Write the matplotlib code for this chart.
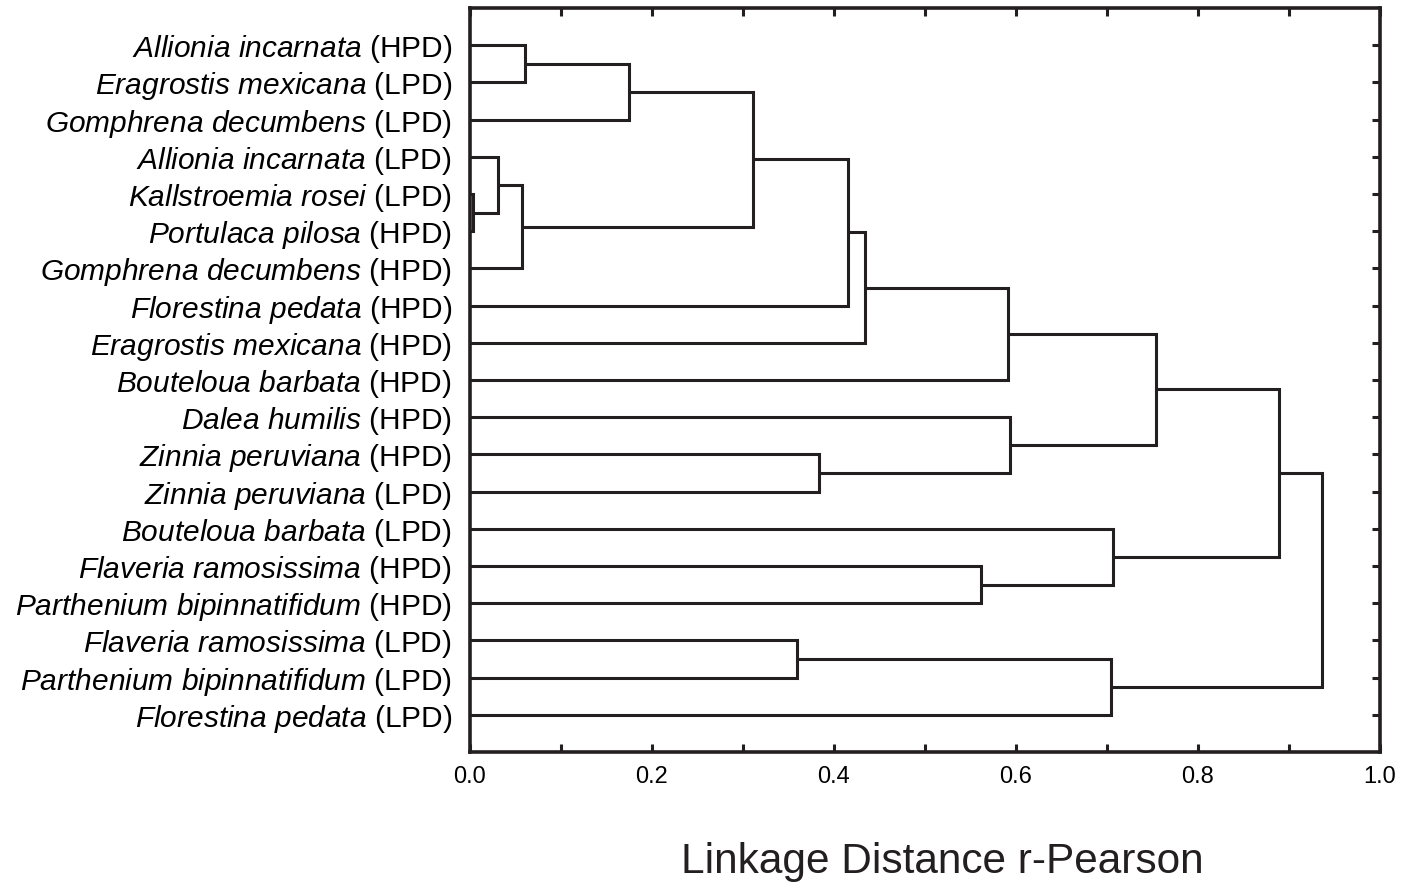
import numpy as np
import matplotlib
matplotlib.use("Agg")
import matplotlib.pyplot as plt
from matplotlib.ticker import MultipleLocator

plt.rcParams['font.family'] = ['Liberation Sans', 'DejaVu Sans']
plt.rcParams['mathtext.fontset'] = 'custom'
plt.rcParams['mathtext.rm'] = 'Liberation Sans'
plt.rcParams['mathtext.it'] = 'Liberation Sans:italic'

# Leaf order, top to bottom
species = [
    "Allionia incarnata", "Eragrostis mexicana", "Gomphrena decumbens",
    "Allionia incarnata", "Kallstroemia rosei", "Portulaca pilosa",
    "Gomphrena decumbens", "Florestina pedata", "Eragrostis mexicana",
    "Bouteloua barbata", "Dalea humilis", "Zinnia peruviana",
    "Zinnia peruviana", "Bouteloua barbata", "Flaveria ramosissima",
    "Parthenium bipinnatifidum", "Flaveria ramosissima",
    "Parthenium bipinnatifidum", "Florestina pedata",
]
density = [
    "HPD", "LPD", "LPD", "LPD", "LPD", "HPD", "HPD", "HPD", "HPD", "HPD",
    "HPD", "HPD", "LPD", "LPD", "HPD", "HPD", "LPD", "LPD", "LPD",
]

# Linkage steps (scipy style): ids >= n refer to clusters made earlier
merge_a = [4, 3, 20, 0, 22, 23, 24, 25, 16, 11, 14, 26, 10, 27, 13, 30, 34, 35]
merge_b = [5, 19, 6, 1, 2, 21, 7, 8, 17, 12, 15, 9, 28, 18, 29, 31, 33, 32]
heights = [0.003, 0.031, 0.057, 0.060, 0.175, 0.311, 0.415, 0.434, 0.359,
           0.384, 0.561, 0.591, 0.593, 0.704, 0.707, 0.754, 0.889, 0.936]

n = len(species)
pos = {i: float(i) for i in range(n)}
hgt = {i: 0.0 for i in range(n)}

fig = plt.figure(figsize=(14.13, 8.84), dpi=100)
ax = fig.add_axes([470 / 1413, 1 - 752 / 884, 910 / 1413, 744 / 884])

for k, (a, b, h) in enumerate(zip(merge_a, merge_b, heights)):
    ya, yb = pos[a], pos[b]
    ax.plot([hgt[a], h, h, hgt[b]], [ya, ya, yb, yb], color='#231f20',
            lw=2.2, solid_joinstyle='miter', solid_capstyle='butt')
    pos[n + k] = (ya + yb) / 2
    hgt[n + k] = h

labels = [r"$\mathit{" + s.replace(" ", r"\ ") + "}$ (" + d + ")"
          for s, d in zip(species, density)]

ax.set_xlim(0, 1.0)
ax.set_ylim(n, -1)
ax.set_yticks(range(n))
ax.set_yticklabels(labels, fontsize=21.5)
ax.xaxis.set_major_locator(MultipleLocator(0.2))
ax.xaxis.set_minor_locator(MultipleLocator(0.1))
ax.xaxis.set_major_formatter(plt.FormatStrFormatter('%.1f'))

ax.tick_params(axis='x', which='both', direction='in', top=True, bottom=True,
               length=6, width=2.2, labelsize=17, pad=10, color='#231f20')
ax.tick_params(axis='y', which='both', direction='in', left=False, right=True,
               length=6, width=2.2, pad=13, color='#231f20')

for sp in ax.spines.values():
    sp.set_linewidth(2.6)
    sp.set_color('#231f20')

fig.text(942 / 1413, 1 - 862 / 884, "Linkage Distance r-Pearson", fontsize=30.5,
         ha='center', va='center', color='#231f20')

fig.savefig("out.png", dpi=100)
